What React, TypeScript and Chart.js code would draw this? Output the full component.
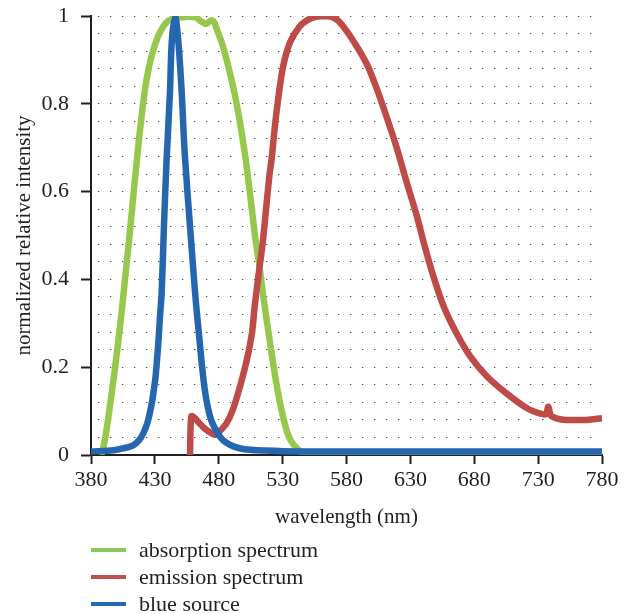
import React, { useEffect, useRef } from "react";
import { Chart, registerables } from "chart.js";

Chart.register(...registerables);

// absorption spectrum (green)
const absWl = [388, 389.5, 391.5, 394.5, 398, 401.4, 404.5, 407.5, 410.5, 413.3, 416, 419, 422.3, 425.5, 428.5, 432, 435.3, 440, 446, 455, 462, 466, 470, 474, 476.5, 478.4, 482.3, 486.2, 489.4, 492.2, 494.5, 496.6, 498.7, 501, 503.2, 505.8, 508.5, 511.5, 514, 516.8, 519.5, 522.5, 525, 527.5, 530.5, 533.5, 537, 541, 545, 550, 780];
const absVal = [0, 0.015, 0.045, 0.105, 0.18, 0.26, 0.34, 0.425, 0.51, 0.595, 0.675, 0.757, 0.834, 0.885, 0.92, 0.95, 0.97, 0.988, 0.995, 0.998, 0.997, 0.988, 0.982, 0.99, 0.985, 0.97, 0.94, 0.9, 0.862, 0.826, 0.792, 0.758, 0.72, 0.675, 0.625, 0.562, 0.497, 0.438, 0.38, 0.322, 0.268, 0.21, 0.165, 0.125, 0.085, 0.052, 0.03, 0.016, 0.006, 0, 0];

// emission spectrum (red)
const emiWl = [457.5, 458.5, 461, 465, 470, 474, 477, 481, 486, 491, 496.6, 502, 506, 508, 511, 514.4, 517, 519.6, 521.4, 524, 527.2, 530.5, 535.8, 543, 549, 556, 564, 570, 575, 585, 596, 603.6, 611.4, 619.3, 627, 635, 641, 648, 656, 666, 677, 690, 705, 721, 731, 736, 738, 740, 745, 752, 768, 780];
const emiVal = [0, 0.088, 0.085, 0.072, 0.058, 0.05, 0.046, 0.055, 0.072, 0.103, 0.156, 0.217, 0.278, 0.335, 0.407, 0.483, 0.559, 0.635, 0.675, 0.75, 0.826, 0.887, 0.94, 0.975, 0.99, 0.998, 1.0, 0.996, 0.985, 0.945, 0.89, 0.835, 0.77, 0.7, 0.622, 0.545, 0.478, 0.407, 0.339, 0.278, 0.224, 0.179, 0.141, 0.107, 0.095, 0.093, 0.11, 0.09, 0.083, 0.08, 0.08, 0.084];

// blue source
const bluWl = [380, 397.5, 405, 413, 418, 421, 424, 426, 428, 429.5, 430.6, 432.7, 434, 435.3, 437.1, 439.2, 441.8, 443.2, 445.8, 448.4, 451, 453.3, 457.5, 460.4, 462.2, 464, 465.5, 467, 469, 471, 474, 478, 482, 486, 492, 500, 517, 540, 780];
const bluVal = [0.008, 0.011, 0.015, 0.022, 0.035, 0.05, 0.072, 0.095, 0.125, 0.155, 0.18, 0.255, 0.315, 0.369, 0.521, 0.674, 0.826, 0.94, 1.0, 0.94, 0.826, 0.69, 0.521, 0.41, 0.345, 0.29, 0.245, 0.2, 0.15, 0.115, 0.08, 0.055, 0.038, 0.028, 0.019, 0.013, 0.01, 0.008, 0.008];

const seriesNames = ["absorption spectrum", "emission spectrum", "blue source"];
const seriesColors = ["#97c74c", "#bf4b48", "#2467b0"];
const legendColors = ["#8dc65a", "#c0504d", "#2468b0"];

const xTitle = "wavelength (nm)";
const yTitle = "normalized relative intensity";
const xMin = 380;
const xMax = 780;
const xStep = 50;
const yStep = 0.04;
const yLabelStep = 0.2;

const FONT = "'Liberation Serif', 'DejaVu Serif', serif";
const INK = "#231f20";

const toPts = (xs: number[], ys: number[]) => xs.map((x, i) => ({ x, y: ys[i] }));
const isMajor = (v: number) => Math.abs(v / yLabelStep - Math.round(v / yLabelStep)) < 1e-6;

export default function App() {
  const ref = useRef<HTMLCanvasElement | null>(null);

  useEffect(() => {
    if (!ref.current) return;
    const common = {
      borderWidth: 6.5,
      pointRadius: 0,
      fill: false,
      tension: 0.3,
      borderJoinStyle: "round" as const,
      borderCapStyle: "butt" as const,
    };
    const chart = new Chart(ref.current, {
      type: "line",
      data: {
        datasets: [
          { ...common, label: seriesNames[0], data: toPts(absWl, absVal), borderColor: seriesColors[0], order: 2 },
          { ...common, label: seriesNames[1], data: toPts(emiWl, emiVal), borderColor: seriesColors[1], order: 1 },
          { ...common, label: seriesNames[2], data: toPts(bluWl, bluVal), borderColor: seriesColors[2], order: 0 },
        ],
      },
      options: {
        responsive: false,
        animation: false,
        parsing: false,
        layout: { padding: { top: 16, right: 28, left: 0, bottom: 0 } },
        plugins: { legend: { display: false }, tooltip: { enabled: false } },
        scales: {
          x: {
            type: "linear",
            min: xMin,
            max: xMax,
            afterFit: (s: any) => {
              s.height = 85;
              s.paddingLeft = 0;
              s.paddingRight = 0;
            },
            ticks: {
              stepSize: xStep,
              color: INK,
              font: { family: FONT, size: 22 },
              padding: 3,
              maxRotation: 0,
              autoSkip: false,
            },
            grid: {
              drawOnChartArea: false,
              drawTicks: true,
              tickLength: 9,
              tickColor: INK,
              tickWidth: 2,
            },
            border: { display: true, color: INK, width: 2 },
            title: {
              display: true,
              text: xTitle,
              color: INK,
              font: { family: FONT, size: 21 },
              padding: { top: 0, bottom: 10 },
            },
          },
          y: {
            type: "linear",
            min: 0,
            max: 1,
            afterFit: (s: any) => {
              s.width = 91;
              s.paddingTop = 0;
              s.paddingBottom = 0;
            },
            ticks: {
              stepSize: yStep,
              autoSkip: false,
              color: INK,
              font: { family: FONT, size: 22 },
              padding: 12,
              callback: (v: any) => {
                const n = Number(v);
                if (!isMajor(n)) return "";
                const r = Math.round(n / yLabelStep) * yLabelStep;
                return String(Number(r.toFixed(1)));
              },
            },
            grid: {
              drawOnChartArea: true,
              color: "#4a4a4a",
              lineWidth: 1,
              drawTicks: true,
              tickLength: 10,
              tickWidth: 2,
              tickColor: (ctx: any) => (ctx.tick && isMajor(ctx.tick.value) ? INK : "rgba(0,0,0,0)"),
            },
            border: { display: true, color: INK, width: 2, dash: [1.3, 10.7], dashOffset: 6 },
            title: {
              display: true,
              text: yTitle,
              color: INK,
              font: { family: FONT, size: 21 },
              padding: { top: 12, bottom: 0 },
            },
          },
        },
      },
    });
    return () => chart.destroy();
  }, []);

  const legendTop = [550, 577, 604];

  return (
    <div style={{ position: "fixed", left: 0, top: 0, width: 630, height: 614, background: "#fff" }}>
      <canvas ref={ref} width={630} height={540} style={{ display: "block", width: 630, height: 540 }} />
      {seriesNames.map((name, i) => (
        <div
          key={name}
          style={{
            position: "absolute",
            left: 91,
            top: legendTop[i] - 14,
            height: 28,
            display: "flex",
            alignItems: "center",
            fontFamily: FONT,
            fontSize: 22,
            color: INK,
            whiteSpace: "nowrap",
          }}
        >
          <span style={{ display: "inline-block", width: 35, height: 4, background: legendColors[i], marginRight: 13 }} />
          <span>{name}</span>
        </div>
      ))}
    </div>
  );
}
